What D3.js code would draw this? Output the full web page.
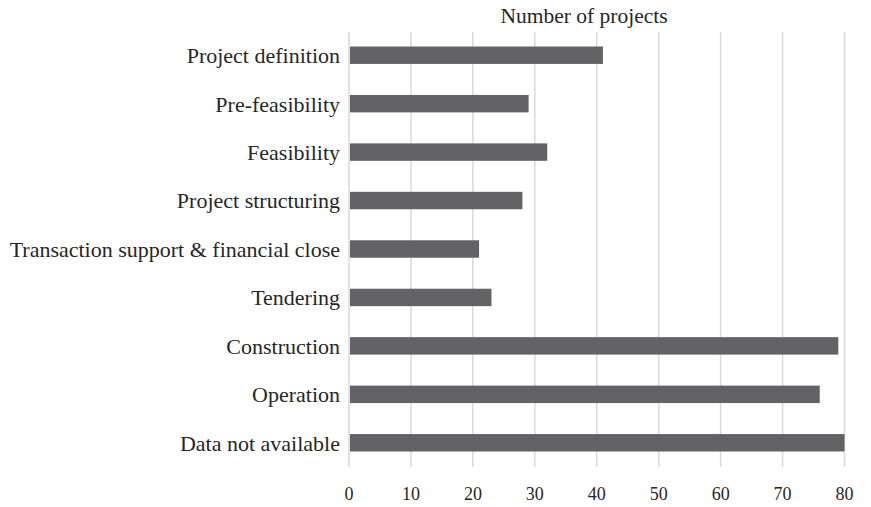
<!DOCTYPE html>
<html>
<head>
<meta charset="utf-8">
<script src="https://cdn.jsdelivr.net/npm/d3@7"></script>
<style>
  body { margin: 0; background: #fff; }
  text { font-family: "Liberation Serif", "DejaVu Serif", serif; fill: #262626; }
</style>
</head>
<body>
<svg id="chart" width="871" height="507"></svg>
<script>
const stages = [
  'Project definition', 'Pre-feasibility', 'Feasibility', 'Project structuring',
  'Transaction support & financial close', 'Tendering', 'Construction',
  'Operation', 'Data not available'
];
const projectCounts = [41, 29, 32, 28, 21, 23, 79, 76, 80];
const xTicks = [0, 10, 20, 30, 40, 50, 60, 70, 80];
const axisTitle = 'Number of projects';

const svg = d3.select('#chart');
const margin = { top: 31, right: 26, bottom: 40, left: 349 };
const width = 871 - margin.left - margin.right;
const height = 507 - margin.top - margin.bottom;

const g = svg.append('g').attr('transform', `translate(${margin.left},${margin.top})`);

const x = d3.scaleLinear().domain([0, 80]).range([0, width - 0.5]);
const y = d3.scaleBand().domain(stages).range([0, height]).paddingInner(0.64).paddingOuter(0.32);

// vertical gridlines
g.selectAll('.grid')
  .data(xTicks)
  .join('line')
  .attr('class', 'grid')
  .attr('x1', d => x(d)).attr('x2', d => x(d))
  .attr('y1', 1).attr('y2', height)
  .attr('stroke', '#d9d9d9')
  .attr('stroke-width', 1.5);

// bars
g.selectAll('.bar')
  .data(stages)
  .join('rect')
  .attr('class', 'bar')
  .attr('x', x(0) + 1)
  .attr('y', d => y(d))
  .attr('width', (d, i) => x(projectCounts[i]) - x(0) - 1)
  .attr('height', y.bandwidth())
  .attr('fill', '#636365');

// category labels
g.selectAll('.cat')
  .data(stages)
  .join('text')
  .attr('class', 'cat')
  .attr('x', -9)
  .attr('y', d => y(d) + y.bandwidth() / 2)
  .attr('dy', '0.36em')
  .attr('text-anchor', 'end')
  .style('font-size', '22px')
  .text(d => d);

// x tick labels
g.selectAll('.tick-label')
  .data(xTicks)
  .join('text')
  .attr('class', 'tick-label')
  .attr('x', d => x(d))
  .attr('y', 500 - margin.top)
  .attr('text-anchor', 'middle')
  .style('font-size', '18px')
  .style('font-variant-numeric', 'oldstyle-nums')
  .text(d => d);

// axis title on top
svg.append('text')
  .attr('x', 584)
  .attr('y', 23)
  .attr('text-anchor', 'middle')
  .style('font-size', '21.5px')
  .text(axisTitle);
</script>
</body>
</html>
